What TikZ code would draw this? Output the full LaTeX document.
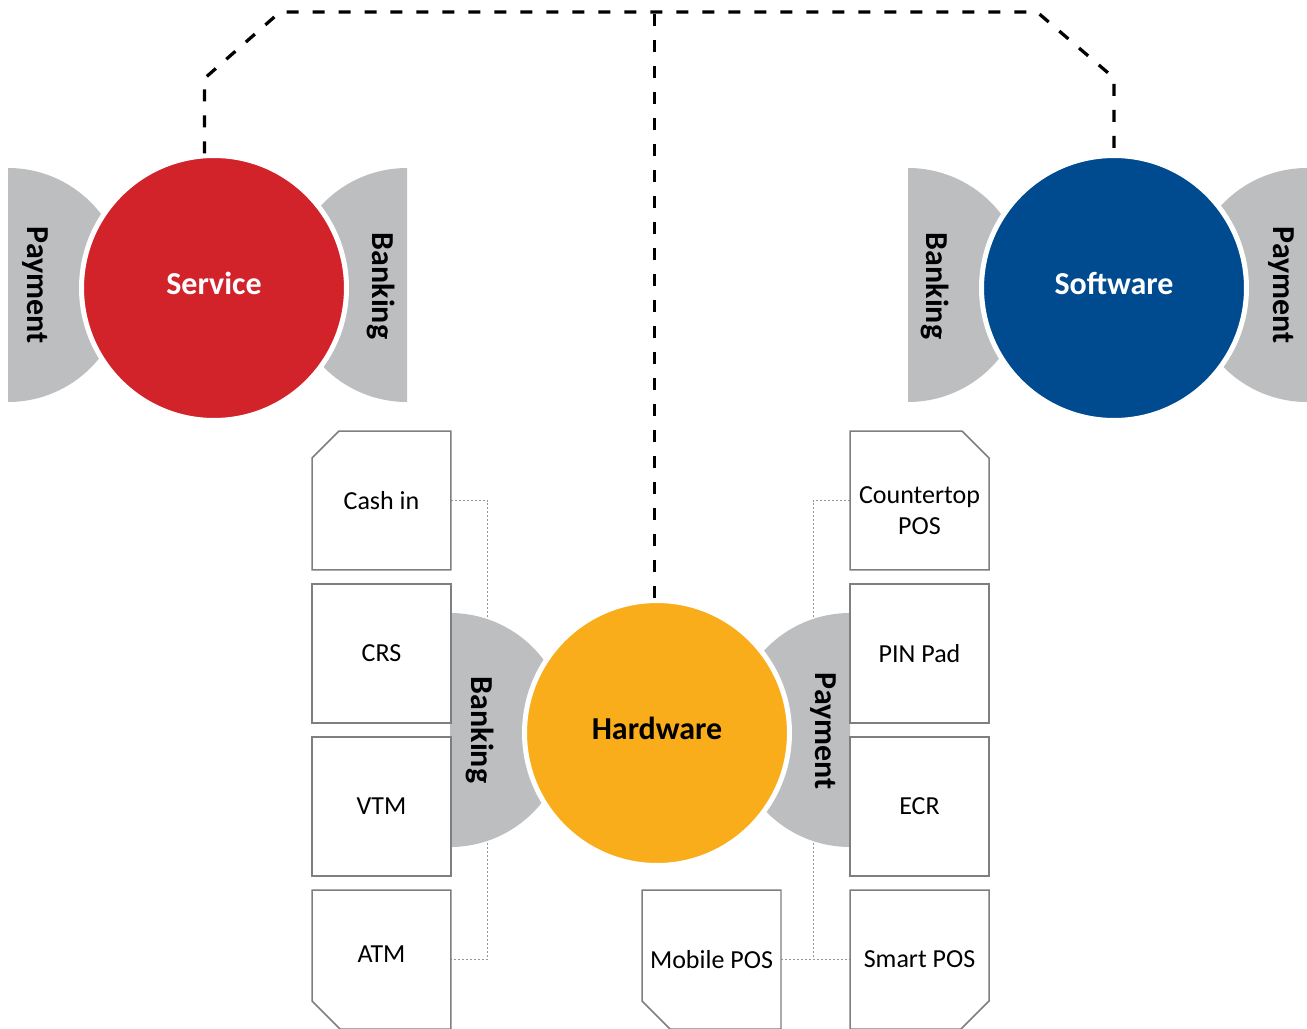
\documentclass[tikz,border=0pt]{standalone}
\usepackage{fontspec}
\setmainfont{Carlito}
\usepackage{tikz}
\usetikzlibrary{calc,positioning,backgrounds}
\definecolor{servicered}{RGB}{210,35,42}
\definecolor{softwareblue}{RGB}{0,74,143}
\definecolor{hardwareorange}{RGB}{249,173,26}
\definecolor{lobegrey}{RGB}{189,190,192}
\definecolor{boxgrey}{RGB}{127,127,127}
\definecolor{dotgrey}{RGB}{150,150,150}

\tikzset{
  hub/.style={circle,draw=white,line width=0.1cm,minimum size=5.3cm,text depth=0.2cm,font=\fontsize{18.2}{22}\selectfont\bfseries},
  lobe/.style={fill=lobegrey},
  lobetext/.style={rotate=-90,inner sep=0pt,font=\fontsize{18.2}{22}\selectfont\bfseries},
  device/.style={rectangle,fill=white,minimum width=2.78cm,minimum height=2.78cm,inner sep=0pt,outer sep=0pt,align=center,font=\fontsize{14.8}{17.6}\selectfont},
  devline/.style={draw=boxgrey,line width=0.03cm},
  dotline/.style={dotgrey,line width=0.02cm,dash pattern=on 0.04cm off 0.04cm},
  link/.style={line width=0.065cm,dash pattern=on 0.24cm off 0.28cm}
}

\begin{document}
\begin{tikzpicture}[x=0.02cm,y=0.02cm]
  \useasboundingbox (0,0) rectangle (1307,-1028);

  % banking devices
  \node[device] (cashin) at (381.5,-500.5) {Cash in};
  \node[device,devline] (crs) at (381.5,-653.5) {CRS};
  \node[device,devline] (vtm) at (381.5,-806.5) {VTM};
  \node[device,text depth=0.2cm] (atm) at (381.5,-959.5) {ATM};
  \draw[devline] ($(cashin.north west)+(27,0)$) -- (cashin.north east) -- (cashin.south east) -- (cashin.south west) -- ($(cashin.north west)+(0,-27)$) -- cycle;
  \draw[devline] (atm.north west) -- (atm.north east) -- (atm.south east) -- ($(atm.south west)+(28,0)$) -- ($(atm.south west)+(0,28)$) -- cycle;

  % payment devices
  \node[device] (countertop) at (919.5,-500.5) {};
  \node[device,fill=none,minimum height=0pt] (countertoptext) at (919.5,-511) {Countertop\\POS};
  \node[device,devline] (pinpad) at (919.5,-653.5) {PIN Pad};
  \node[device,devline] (ecr) at (919.5,-806.5) {ECR};
  \node[device] (smartpos) at (919.5,-959.5) {Smart POS};
  \node[device] (mobilepos) at (711.5,-959.5) {Mobile POS};
  \draw[devline] (countertop.north west) -- ($(countertop.north east)+(-27,0)$) -- ($(countertop.north east)+(0,-27)$) -- (countertop.south east) -- (countertop.south west) -- cycle;
  \draw[devline] (smartpos.north west) -- (smartpos.north east) -- ($(smartpos.south east)+(0,28)$) -- ($(smartpos.south east)+(-28,0)$) -- (smartpos.south west) -- cycle;
  \draw[devline] (mobilepos.north west) -- (mobilepos.north east) -- (mobilepos.south east) -- ($(mobilepos.south west)+(28,0)$) -- ($(mobilepos.south west)+(0,28)$) -- cycle;

  \begin{scope}[on background layer]
    \fill[white] (0,0) rectangle (1307,-1028);
    \draw[dotline] (cashin.east) -- ++(37,0) |- (atm.east);
    \draw[dotline] (countertop.west) -- ++(-37,0) |- (smartpos.west);
    \draw[dotline] (mobilepos.east) -- (smartpos.west);
    % half discs behind the hubs
    \fill[lobe] (8,-168) arc[start angle=90,end angle=-90,radius=117] -- cycle;
    \fill[lobe] (407,-168) arc[start angle=90,end angle=270,radius=117] -- cycle;
    \fill[lobe] (908,-168) arc[start angle=90,end angle=-90,radius=117] -- cycle;
    \fill[lobe] (1307,-168) arc[start angle=90,end angle=270,radius=117] -- cycle;
    \fill[lobe] (450,-613) arc[start angle=90,end angle=-90,radius=117] -- cycle;
    \fill[lobe] (850,-613) arc[start angle=90,end angle=270,radius=117] -- cycle;
  \end{scope}

  % hubs
  \node[hub,fill=servicered,text=white] (service) at (214,-288) {Service};
  \node[hub,fill=softwareblue,text=white] (software) at (1114,-288) {Software};
  \node[hub,fill=hardwareorange] (hardware) at (657,-733) {Hardware};

  \node[lobetext] (svcpay) at (35,-285) {Payment};
  \node[lobetext] (svcbank) at (381,-286) {Banking};
  \node[lobetext] (swbank) at (935,-286) {Banking};
  \node[lobetext] (swpay) at (1281,-285) {Payment};
  \node[lobetext] (hwbank) at (480,-730) {Banking};
  \node[lobetext] (hwpay) at (823,-731) {Payment};

  \coordinate (apex) at (654,-12);
  \draw[link] (service.94) -- ++(0,75) -- (280,-12) -- (1037,-12) -- (1114,-78) -- (software.north);
  \draw[link] (hardware.91) -- (hardware.91 |- apex);
\end{tikzpicture}
\end{document}
